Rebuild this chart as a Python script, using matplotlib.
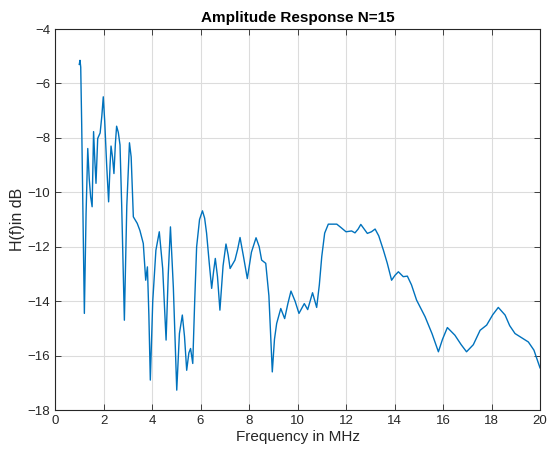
import matplotlib
matplotlib.use("Agg")
import matplotlib.pyplot as plt

# Values (MHz, dB)
freq_mhz = [1.00, 1.03, 1.06, 1.10, 1.21, 1.28, 1.35, 1.41, 1.47, 1.53, 1.56, 1.59, 1.64, 1.69,
            1.76, 1.86, 1.93, 1.99, 2.05, 2.13, 2.21, 2.27, 2.31, 2.37, 2.43, 2.49, 2.54,
            2.61, 2.68, 2.75, 2.86, 2.96, 3.07, 3.14, 3.23, 3.39, 3.50, 3.64, 3.74, 3.81,
            3.87, 3.93, 4.03, 4.16, 4.30, 4.44, 4.58, 4.67, 4.76, 4.88, 5.02, 5.13, 5.25,
            5.34, 5.43, 5.52, 5.59, 5.68, 5.76, 5.84, 5.96, 6.08, 6.17, 6.25, 6.36, 6.46,
            6.54, 6.61, 6.70, 6.80, 6.93, 7.05, 7.14, 7.22, 7.42, 7.53, 7.63, 7.78, 7.93,
            8.10, 8.29, 8.42, 8.52, 8.69, 8.82, 8.96, 9.05, 9.14, 9.31, 9.47, 9.60, 9.73,
            9.90, 10.06, 10.28, 10.42, 10.62, 10.79, 10.90, 11.00, 11.12, 11.27, 11.62,
            11.80, 12.00, 12.23, 12.37, 12.50, 12.61, 12.75, 12.88, 13.05, 13.20, 13.35,
            13.54, 13.70, 13.88, 14.02, 14.16, 14.36, 14.53, 14.70, 14.91, 15.26, 15.55,
            15.81, 15.98, 16.18, 16.49, 16.75, 16.97, 17.25, 17.53, 17.80, 18.05, 18.28,
            18.56, 18.75, 18.97, 19.25, 19.52, 19.75, 20.00]
h_db = [-5.30, -5.15, -5.40, -7.50, -14.45, -10.80, -8.39, -9.50, -10.17, -10.53, -9.20, -7.77,
        -8.80, -9.67, -8.02, -7.82, -7.20, -6.49, -7.40, -9.00, -10.35, -9.00, -8.30, -8.70,
        -9.31, -8.20, -7.57, -7.80, -8.26, -10.50, -14.70, -10.50, -8.18, -8.70, -10.90,
        -11.14, -11.40, -11.88, -13.23, -12.74, -14.50, -16.90, -14.00, -12.13, -11.45,
        -12.80, -15.43, -13.00, -11.27, -13.50, -17.27, -15.19, -14.51, -15.30, -16.54,
        -15.90, -15.74, -16.29, -14.00, -12.00, -11.00, -10.68, -10.95, -11.50, -12.60,
        -13.53, -12.90, -12.43, -13.10, -14.33, -12.70, -11.90, -12.30, -12.80, -12.49,
        -12.10, -11.66, -12.40, -13.17, -12.20, -11.67, -12.00, -12.49, -12.61, -13.80,
        -16.60, -15.40, -14.82, -14.27, -14.64, -14.10, -13.63, -14.00, -14.45, -14.09,
        -14.31, -13.69, -14.23, -13.40, -12.36, -11.50, -11.17, -11.17, -11.30, -11.45,
        -11.42, -11.49, -11.35, -11.18, -11.35, -11.51, -11.45, -11.35, -11.60, -12.12,
        -12.60, -13.23, -13.05, -12.92, -13.10, -13.08, -13.40, -13.96, -14.57, -15.20,
        -15.86, -15.40, -14.97, -15.25, -15.60, -15.86, -15.60, -15.07, -14.88, -14.50,
        -14.23, -14.51, -14.90, -15.19, -15.35, -15.50, -15.80, -16.45]

x_ticks = list(range(0, 21, 2))
y_ticks = list(range(-18, -3, 2))

plt.rcParams['font.family'] = ['Liberation Sans', 'DejaVu Sans']

fig = plt.figure(figsize=(5.48, 4.61), dpi=100)
ax = fig.add_axes([0.1004, 0.1106, 0.885, 0.8264])

ax.plot(freq_mhz, h_db, color='#0072BD', linewidth=1.0, solid_joinstyle='round')

ax.set_xlim(0, 20)
ax.set_ylim(-18, -4)
ax.set_xticks(x_ticks)
ax.set_yticks(y_ticks)
ax.grid(True, color='#dcdcdc', linewidth=0.8)
ax.set_axisbelow(True)
ax.tick_params(direction='in', top=True, right=True, labelsize=9.5,
               colors='#262626', length=4, width=0.6)
for s in ax.spines.values():
    s.set_color('#262626')
    s.set_linewidth(0.8)

ax.set_title('Amplitude Response N=15', fontsize=11, fontweight='bold', color='#000000', pad=5)
ax.set_xlabel('Frequency in MHz', fontsize=11, color='#262626', labelpad=2)
ax.set_ylabel('H(f)in dB', fontsize=11.5, color='#262626', labelpad=2)

fig.savefig('out.png', dpi=100)
